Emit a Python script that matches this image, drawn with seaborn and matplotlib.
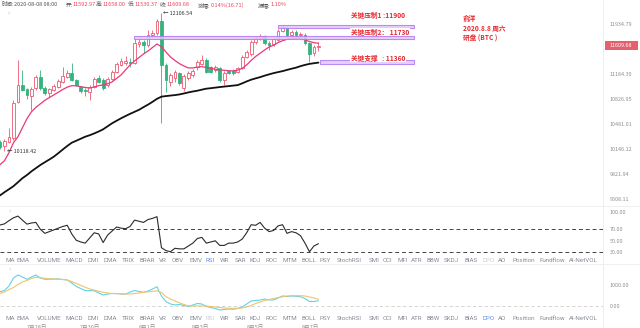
import numpy as np
import seaborn as sns
import matplotlib.pyplot as plt
from matplotlib.patches import Rectangle
from matplotlib.lines import Line2D
from matplotlib.ticker import NullLocator

# ---- 4h candles, BTC (oldest first) ----
opens = [10246, 10184, 10246, 10299, 10795, 11031, 10970, 10879, 10984, 11150,
         10984, 10913, 10960, 11007, 11078, 11150, 11200, 11103, 10995, 10960,
         10936, 11007, 11128, 11103, 11031, 11117, 11223, 11321, 11346, 11369,
         11354, 11628, 11668, 11618, 11770, 11795, 11990, 11321, 11078, 11132,
         11200, 10988, 11128, 11175, 11296, 11336, 11394, 11288, 11248, 11272,
         11103, 11233, 11237, 11223, 11272, 11439, 11483, 11663, 11720, 11747,
         11652, 11633, 11694, 11836, 11873, 11762, 11821, 11762, 11770, 11644,
         11500, 11592.97]
highs = [10273, 10286, 10434, 10819, 11394, 11248, 10988, 11003, 11175, 11248,
         11017, 10988, 11046, 11117, 11296, 11248, 11350, 11117, 11017, 10988,
         11031, 11146, 11175, 11132, 11146, 11248, 11365, 11424, 11454, 11424,
         11724, 11724, 11694, 11846, 11846, 12016, 12106.54, 11350, 11204, 11248,
         11219, 11190, 11233, 11263, 11394, 11469, 11424, 11306, 11321, 11292,
         11233, 11248, 11263, 11292, 11469, 11543, 11694, 11754, 11785, 11770,
         11678, 11724, 11862, 11924, 11908, 11846, 11846, 11816, 11800, 11663,
         11618, 11658.00]
lows = [10153, 10118.42, 10233, 10273, 10777, 10946, 10833, 10680, 10960, 10960,
        10889, 10857, 10946, 10988, 11060, 11132, 11089, 11017, 10917, 10875,
        10819, 10988, 11060, 10960, 11003, 11103, 11204, 11306, 11321, 11292,
        11336, 11588, 11498, 11588, 11739, 11770, 10501, 10931, 11017, 11074,
        11031, 10940, 11103, 11146, 11248, 11321, 11204, 11204, 11219, 11074,
        11031, 11190, 11175, 11204, 11263, 11424, 11454, 11633, 11694, 11618,
        11543, 11603, 11678, 11816, 11739, 11739, 11724, 11739, 11618, 11358,
        11454, 11530.37]
closes = [10180, 10250, 10313, 10777, 11031, 10960, 10889, 10974, 11150, 10984,
          10913, 10974, 11017, 11089, 11161, 11209, 11103, 11031, 10946, 10938,
          10999, 11113, 11078, 10984, 11117, 11223, 11331, 11380, 11380, 11346,
          11652, 11668, 11618, 11770, 11805, 11990, 11321, 11103, 11168, 11223,
          11056, 11161, 11200, 11233, 11369, 11394, 11223, 11223, 11296, 11103,
          11209, 11209, 11200, 11272, 11439, 11513, 11663, 11720, 11747, 11644,
          11618, 11701, 11836, 11885, 11762, 11821, 11762, 11785, 11644, 11476,
          11592, 11609.68]

# moving averages shown on the price panel
ma_fast = [9945, 9997, 10101, 10233, 10313, 10434, 10556, 10652, 10714, 10763,
           10812, 10851, 10889, 10926, 10966, 10999, 11020, 11017, 11006, 10994,
           10985, 11003, 11020, 11031, 11046, 11074, 11125, 11175, 11248, 11321,
           11380, 11431, 11483, 11528, 11580, 11633, 11591, 11513, 11439, 11387,
           11340, 11306, 11277, 11277, 11289, 11295, 11284, 11271, 11258, 11248,
           11242, 11236, 11233, 11244, 11270, 11321, 11387, 11446, 11494, 11543,
           11588, 11614, 11654, 11683, 11704, 11715, 11720, 11718, 11694, 11671,
           11652, 11644]
ma_slow = [9556, 9596, 9633, 9671, 9721, 9772, 9812, 9859, 9900, 9941,
           9977, 10012, 10049, 10095, 10143, 10190, 10233, 10259, 10286, 10313,
           10333, 10357, 10383, 10413, 10454, 10495, 10529, 10563, 10594, 10624,
           10652, 10680, 10717, 10752, 10791, 10833, 10864, 10872, 10879, 10886,
           10895, 10909, 10924, 10937, 10948, 10963, 10977, 10984, 10992, 11000,
           11007, 11014, 11021, 11028, 11053, 11081, 11106, 11125, 11143, 11164,
           11183, 11201, 11216, 11230, 11248, 11265, 11281, 11303, 11321, 11336,
           11346, 11355]

rsi = [77.5, 79.5, 85, 90, 93, 86, 79, 81, 82, 70,
       63, 66, 69, 72, 75, 77, 62, 51, 48, 46,
       55, 64, 62, 47, 60, 67, 74, 72, 71, 75,
       86, 84, 82, 87, 89, 92, 38, 33, 31, 37,
       36, 36, 41, 46, 54, 56, 46, 48, 50, 42,
       42, 46, 46, 48, 53, 64, 78, 77, 82, 72,
       66, 68, 76, 78, 63, 66, 64, 59, 46, 31,
       41, 45]

dpo = [673, 728, 935, 1304, 1442, 1350, 1244, 1350, 1442, 1304,
       1244, 1249, 1258, 1258, 1235, 1212, 1074, 912, 820, 728,
       719, 719, 613, 521, 567, 590, 590, 567, 558, 659,
       728, 682, 645, 705, 797, 903, 475, 221, 106, 60,
       83, 37, -9, 60, 129, 106, -9, -55, -101, -170,
       -147, -124, -138, -101, -32, 106, 244, 267, 290, 336,
       290, 290, 382, 475, 452, 475, 461, 442, 359, 221,
       221, 258]
madpo = [599, 659, 774, 866, 1005, 1120, 1189, 1281, 1336, 1313,
         1290, 1267, 1258, 1244, 1235, 1212, 1143, 1051, 968, 876,
         797, 751, 691, 645, 613, 590, 581, 576, 567, 567,
         590, 613, 645, 668, 691, 714, 636, 442, 336, 244,
         161, 83, 23, 14, 14, 14, 14, -9, -32, -55,
         -78, -92, -92, -92, -78, -32, 37, 129, 198, 267,
         313, 359, 405, 442, 475, 488, 488, 488, 475, 429,
         382, 323]

price_ticks = [11934.79, 11184.30, 10826.95, 10481.01, 10146.12, 9821.94, 9508.11]
key_levels = [11900, 11730, 11360]
key_texts = ["关键压制1 :11900", "关键压制2： 11730", "关键支撑   : 11360"]
note_lines = ["俞洋", "2020.8.8 周六", "研盘 (BTC )"]
indicator_tabs = ["MA", "EMA", "VOLUME", "MACD", "DMI", "DMA", "TRIX", "BRAR", "VR",
                  "OBV", "EMV", "RSI", "WR", "SAR", "KDJ", "ROC", "MTM", "BOLL",
                  "PSY", "StochRSI", "SMI", "CCI", "MFI", "ATR", "BBW", "SKDJ",
                  "BIAS", "DPO", "AO", "Position", "Fundflow", "AI-NetVOL"]
date_labels = ["7月28日", "7月30日", "8月1日", "8月3日", "8月5日", "8月7日"]

# ---- styling ----
sns.set_theme(style="white")
plt.rcParams["font.family"] = ["Noto Sans CJK SC", "DejaVu Sans"]

W, H = 640, 328
fig = plt.figure(figsize=(W / 100, H / 100), dpi=100)
fig.patch.set_facecolor("white")


def fx(x):
    return x / W


def fy(y):
    return 1 - y / H


PLOT_R = 603          # right edge of plotting area, px
STEP = 4.485          # candle spacing, px
XMAX = PLOT_R / STEP
RED, GREEN = "#ec5b6f", "#35b37e"
AXIS_GREY = "#8f8f8f"


def add_panel(top, bottom):
    ax = fig.add_axes([0, fy(bottom), PLOT_R / W, (bottom - top) / H])
    ax.set_facecolor("none")
    for s in ax.spines.values():
        s.set_visible(False)
    ax.yaxis.tick_right()
    ax.tick_params(axis="y", length=0, pad=5, labelsize=3.9, labelcolor=AXIS_GREY)
    ax.set_xticks([])
    ax.set_xlim(0, XMAX)
    return ax


idx = np.arange(len(closes))
o, h, l, c = map(np.asarray, (opens, highs, lows, closes))
up = c >= o

# ---- price panel ----
ax = add_panel(10, 204)
ax.set_yscale("log")
ax.set_ylim(9450, 12158)
cols = np.where(up, RED, GREEN)
ax.vlines(idx, l, h, colors=cols, lw=0.6, zorder=2)
body_lo = np.minimum(o, c)
body_h = np.maximum(np.abs(c - o), body_lo * 0.0004)
ax.bar(idx, body_h, bottom=body_lo, width=0.62,
       color=np.where(up, "white", GREEN), edgecolor=cols, linewidth=0.6, zorder=3)
sns.lineplot(x=idx, y=ma_fast, ax=ax, color="#e8387f", lw=0.9, legend=False, zorder=4)
sns.lineplot(x=idx, y=ma_slow, ax=ax, color="#111111", lw=1.3, legend=False, zorder=4)
ax.set_xlabel("")
ax.set_ylabel("")
ax.yaxis.set_minor_locator(NullLocator())
ax.set_yticks(price_ticks)
ax.set_yticklabels([f"{v:.2f}" for v in price_ticks])
ax.set_xlim(0, XMAX)
ax.set_ylim(9450, 12158)

# key level bands
band_start = [62.0, 29.9, 71.3]
band_end = 92.3
for lv, x0 in zip(key_levels, band_start):
    ax.add_patch(Rectangle((x0, lv / 1.0024), band_end - x0, lv * 1.0024 - lv / 1.0024,
                           facecolor="#e2c9fb", edgecolor="#b377f0", lw=0.8,
                           alpha=0.85, zorder=5))

# high / low markers
i_hi = int(np.argmax(h))
i_lo = int(np.argmin(l))
ax.text(i_hi + 0.45, h[i_hi], f"← {h[i_hi]:.2f}", fontsize=3.9, color="#333333",
        va="center", ha="left", zorder=6)
ax.text(i_lo + 0.45, l[i_lo], f"← {l[i_lo]:.2f}", fontsize=3.9, color="#333333",
        va="center", ha="left", zorder=6)

# ---- RSI panel ----
rax = add_panel(207, 256)
rax.set_ylim(23.6, 108.8)
for lv in (70, 30):
    rax.axhline(lv, color="#444444", ls=(0, (4, 3)), lw=0.7)
sns.lineplot(x=idx, y=rsi, ax=rax, color="#2a2a2a", lw=0.8, legend=False)
rax.set_xlabel("")
rax.set_ylabel("")
rax.set_yticks([100, 70, 50, 30])
rax.set_yticklabels(["100.00", "70.00", "50.00", "30.00"])
rax.set_xlim(0, XMAX)

# ---- DPO panel ----
dax = add_panel(266, 314)
dax.set_ylim(-355, 1857)
dax.axhline(0, color="#cfcfcf", ls=(0, (4, 3)), lw=0.6)
sns.lineplot(x=idx, y=dpo, ax=dax, color="#62d2e6", lw=0.8, legend=False)
sns.lineplot(x=idx, y=madpo, ax=dax, color="#f2c469", lw=0.8, legend=False)
dax.set_xlabel("")
dax.set_ylabel("")
dax.set_yticks([1000, 0])
dax.set_yticklabels(["1000.00", "0.00"])
dax.set_xlim(0, XMAX)

# ---- frame lines ----
fig.add_artist(Line2D([fx(PLOT_R)] * 2, [0, 1], color="#ebebeb", lw=0.6))
for yy in (206, 264):
    fig.add_artist(Line2D([0, 1], [fy(yy)] * 2, color="#eeeeee", lw=0.6))

# ---- last price tag ----
fig.canvas.draw()
renderer = fig.canvas.get_renderer()
tag_y = ax.transData.transform((0, c[-1]))[1] / H
fig.add_artist(Rectangle((fx(604.5), tag_y - 4.2 / H), 33 / W, 8.4 / H,
                         facecolor="#e4606d", edgecolor="none"))
fig.text(fx(621), tag_y, f"{c[-1]:.2f}", fontsize=3.9, color="white",
         ha="center", va="center")

# ---- header ----
LBL, VAL = "#555555", "#e8465a"
header = [
    (2, [("时间:", LBL), ("2020-08-08 08:00", LBL)]),
    (66, [("开:", LBL), (f"{opens[-1]:.2f}", VAL)]),
    (96, [("高:", LBL), (f"{highs[-1]:.2f}", VAL)]),
    (128, [("低:", LBL), (f"{lows[-1]:.2f}", VAL)]),
    (160, [("收:", LBL), (f"{closes[-1]:.2f}", VAL)]),
    (198, [("涨幅:", LBL), ("0.14%(16.71)", VAL)]),
    (258, [("振幅:", LBL), ("1.10%", VAL)]),
]
for x0, parts in header:
    x = x0
    for txt, col in parts:
        t = fig.text(fx(x), fy(5), txt, fontsize=4, color=col, va="center", ha="left")
        x += t.get_window_extent(renderer).width

# ---- annotations ----
ANN = "#e8282e"
for txt, yy in zip(key_texts, (15, 32, 58)):
    fig.text(fx(351), fy(yy), txt, fontsize=4.8, color=ANN, weight="bold",
             va="center", ha="left",
             bbox=dict(facecolor="white", edgecolor="none", pad=0.4))
for txt, yy in zip(note_lines, (18, 28.3, 38.3)):
    fig.text(fx(463), fy(yy), txt, fontsize=4.8, color=ANN, weight="bold",
             va="center", ha="left")

# collapse chevrons
for xx, yy in ((8.3, 13), (9.3, 211), (9.3, 269)):
    fig.text(fx(xx), fy(yy), "›", fontsize=5, color="#bbbbbb", va="center", ha="center")

# ---- indicator tabs ----
tab_x = [5, 16.7, 36.7, 65.7, 87.3, 103.3, 121.7, 140, 159, 171.7, 189.3, 206, 220,
         234.3, 250, 265.7, 282.7, 301, 320, 336.7, 368.3, 382.7, 397.3, 410.7,
         426.7, 444, 464.3, 482.3, 498.3, 512.7, 539.3, 569]
for row_y, active in ((260, "RSI"), (318, "DPO")):
    for name, xx in zip(indicator_tabs, tab_x):
        if name == active:
            col = "#5b8def"
        elif name in ("RSI", "DPO"):
            col = "#c9ccd3"
        else:
            col = "#878c96"
        fig.text(fx(xx), fy(row_y), name, fontsize=4.5, color=col,
                 family=["Roboto", "DejaVu Sans"], va="center", ha="left")

# ---- time axis (partially below the frame) ----
for lbl, xx in zip(date_labels, (37, 90, 147, 200, 255, 310)):
    fig.text(fx(xx), fy(325), lbl, fontsize=4, color="#8f8f8f", va="top", ha="center")

fig.savefig("out.png", dpi=100, facecolor="white")
